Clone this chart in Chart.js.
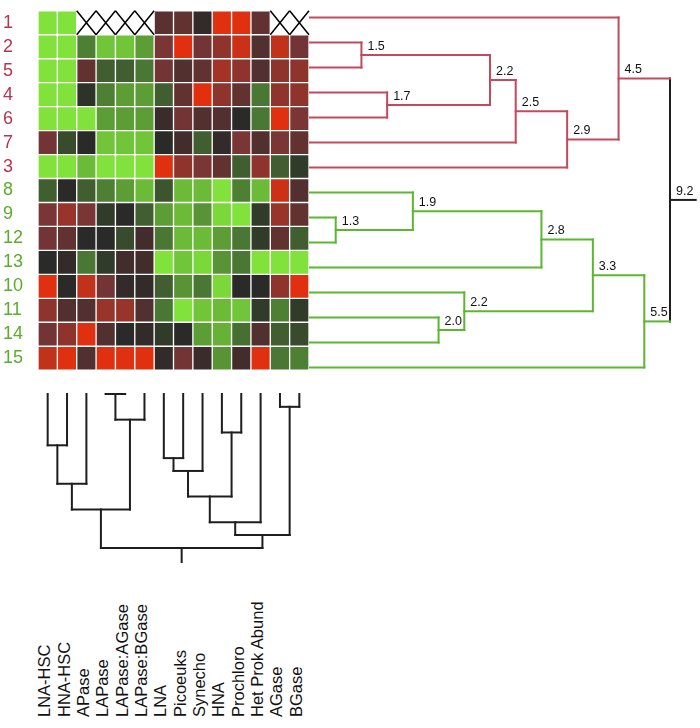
<!DOCTYPE html>
<html lang="en">
<head>
  <meta charset="UTF-8" />
  <title>Clustered heatmap</title>
  <script src="https://cdn.jsdelivr.net/npm/chart.js"></script>
  <style>
    body { margin: 0; background: #fff; font-family: "Liberation Sans", Arial, sans-serif; }
    #wrap { position: relative; width: 700px; height: 728px; overflow: hidden; }
    #wrap canvas { position: absolute; }
    .collab { position: absolute; font-size: 16.5px; line-height: 16px; white-space: nowrap;
              color: #111; transform-origin: 0 0; transform: rotate(-90deg); }
  </style>
</head>
<body>
  <div id="wrap">
    <canvas id="heat" width="310" height="381" style="left:0;top:0"></canvas>
    <canvas id="rowTree" width="400" height="385" style="left:300px;top:0"></canvas>
    <canvas id="colTree" width="310" height="185" style="left:0;top:385px"></canvas>
  </div>

  <script>
    // rows as they appear top to bottom
    const rowLabels = ['1', '2', '5', '4', '6', '7', '3', '8', '9', '12', '13', '10', '11', '14', '15'];
    const rowGroups = ['red', 'red', 'red', 'red', 'red', 'red', 'red',
                       'green', 'green', 'green', 'green', 'green', 'green', 'green', 'green'];
    const colLabels = ['LNA-HSC', 'HNA-HSC', 'APase', 'LAPase', 'LAPase:AGase', 'LAPase:BGase', 'LNA',
                       'Picoeuks', 'Synecho', 'HNA', 'Prochloro', 'Het Prok Abund', 'AGase', 'BGase'];

    // standardised values, -1 = green, +1 = red, null = missing
    const heat = [
      [-1, -1, null, null, null, null, 0.3, 0.35, 0.05, 1, 1, 0.35, null, null],
      [-1, -1, -0.5, -0.85, -0.85, -0.65, 0.5, 1, 0.45, 0.6, 0.9, 0.25, 0.85, 0.45],
      [-1, -1, 0.35, -0.3, -0.3, -0.45, 0.45, 0.25, 0.35, 0.7, 0.6, 0.25, 0.6, 0.6],
      [-1, -1, -0.05, -0.5, -0.65, -0.65, -0.3, 0.35, 1, 0.6, 0.35, -0.45, 0.6, 0.6],
      [-1, -1, -1, -0.65, -0.65, -0.65, 0.1, 0.45, 0.25, 0.25, 0, -0.45, 1, 0.5],
      [0.45, -0.2, 0, -0.85, -0.85, -0.85, 0, 0.15, -0.3, 0.05, 0.5, 0.25, 0.5, 0.35],
      [-1, -1, -0.8, -1, -1, -1, 1, 0.6, 0.5, 0.35, -0.3, 0.6, -0.3, -0.1],
      [-0.3, 0, -0.3, -0.5, -0.65, -0.8, -0.25, -0.8, -0.8, -1, -0.5, -0.8, 0.9, 0.25],
      [0.5, 0.65, 0.5, -0.1, 0, -0.3, -0.65, -0.8, -0.6, -0.95, -1, -0.1, 0.65, 0.35],
      [0.45, 0.35, 0, 0, -0.2, 0.15, -0.45, -0.8, -0.8, -0.65, -0.45, -0.1, 0.35, -0.3],
      [0, 0.05, -0.45, -0.1, 0.15, 0.15, -1, -0.85, -0.95, -0.6, -0.45, -1, -1, -1],
      [1, 0, 0.85, 0.45, 0.05, 0.05, -0.3, -0.6, -0.45, -0.95, 0, 0, 0.6, 1],
      [0.6, 0.25, 0.25, 0.65, 0.65, 0.25, -0.45, -1, -0.85, -0.8, -0.85, -0.1, -0.5, -0.1],
      [0.45, 0.6, 1, 0.25, 0, 0.05, -0.1, 0, -0.65, -0.75, -0.4, 0.25, -0.3, -0.2],
      [0.85, 1, 0.25, 1, 1, 1, 0.05, 0.45, 0.1, -0.6, 0.15, 1, -0.45, -0.5]
    ];

    // row tree: leaves 0..14, merge k makes node 15+k
    const rowMerges = [[8, 9], [1, 2], [3, 4], [7, 15], [12, 13], [11, 19], [16, 17],
                       [21, 5], [18, 10], [22, 6], [23, 20], [0, 24], [25, 14], [26, 27]];
    const rowHeights = [1.3, 1.5, 1.7, 1.9, 2.0, 2.2, 2.2, 2.5, 2.8, 2.9, 3.3, 4.5, 5.5, 9.2];

    // column tree: leaves 0..13, merge k makes node 14+k
    const colMerges = [[3, 4], [12, 13], [14, 5], [9, 10], [0, 1], [6, 7], [19, 8],
                       [18, 2], [20, 17], [21, 16], [22, 11], [24, 15], [23, 25]];

    const FONT = '"Liberation Sans", Arial, sans-serif';
    const RED_TXT = '#b8344d', GREEN_TXT = '#5aad2c';
    const RED_LINE = '#c34a5c', GREEN_LINE = '#5cb630', DARK = '#1e1e1e';

    const stops = [[-1, [128, 226, 58]], [-0.5, [78, 128, 52]], [0, [42, 42, 40]],
                   [0.5, [122, 53, 53]], [1, [224, 48, 15]]];
    function cellColor(v) {
      if (v === null) return '#ffffff';
      for (let i = 1; i < stops.length; i++) {
        if (v <= stops[i][0]) {
          const [a, ca] = stops[i - 1], [b, cb] = stops[i];
          const t = (v - a) / (b - a);
          const c = ca.map((q, j) => Math.round(q + (cb[j] - q) * t));
          return `rgb(${c[0]},${c[1]},${c[2]})`;
        }
      }
      return 'rgb(224,48,15)';
    }

    // crosses on missing cells
    const naCross = {
      id: 'naCross',
      afterDatasetsDraw(chart) {
        const { ctx, scales: { x, y } } = chart;
        const band = (y.bottom - y.top) / rowLabels.length;
        ctx.save();
        ctx.strokeStyle = '#000';
        ctx.lineWidth = 1.5;
        heat.forEach((row, r) => row.forEach((v, c) => {
          if (v !== null) return;
          const x0 = x.getPixelForValue(c), x1 = x.getPixelForValue(c + 1);
          const yc = y.getPixelForValue(r), y0 = yc - band / 2, y1 = yc + band / 2;
          ctx.beginPath();
          ctx.moveTo(x0, y0); ctx.lineTo(x1, y1);
          ctx.moveTo(x1, y0); ctx.lineTo(x0, y1);
          ctx.stroke();
        }));
        ctx.restore();
      }
    };

    new Chart(document.getElementById('heat'), {
      type: 'bar',
      data: {
        labels: rowLabels,
        datasets: colLabels.map((name, c) => ({
          label: name,
          data: rowLabels.map(() => [c, c + 1]),
          backgroundColor: heat.map(row => cellColor(row[c])),
          borderColor: 'rgba(255,255,255,0.08)',
          borderWidth: 1,
          borderSkipped: false,
          grouped: false,
          barPercentage: 1,
          categoryPercentage: 1
        }))
      },
      options: {
        indexAxis: 'y',
        responsive: false,
        animation: false,
        layout: { padding: { top: 5, right: 1, bottom: 1, left: 3 } },
        plugins: { legend: { display: false }, tooltip: { enabled: false } },
        scales: {
          x: { type: 'linear', min: 0, max: 14, display: false },
          y: {
            grid: { display: false },
            border: { display: false },
            ticks: {
              autoSkip: false,
              crossAlign: 'far',
              padding: 0,
              font: { size: 18, family: FONT },
              color: ctx => rowGroups[ctx.index] === 'red' ? RED_TXT : GREEN_TXT
            },
            afterFit: s => { s.width = 35; }
          }
        }
      },
      plugins: [naCross]
    });

    // --- row dendrogram (x = merge order, y = row position)
    const rowNodes = rowLabels.map((_, i) => ({ x: 0, y: i + 0.5, group: rowGroups[i] }));
    rowMerges.forEach(([a, b], k) => {
      const A = rowNodes[a], B = rowNodes[b];
      rowNodes.push({ x: k + 1, y: (A.y + B.y) / 2, group: A.group === B.group ? A.group : 'root',
                      a: A, b: B, h: rowHeights[k] });
    });
    const lineColor = g => g === 'red' ? RED_LINE : g === 'green' ? GREEN_LINE : DARK;
    const seg = (x1, y1, x2, y2, color) => ({
      data: [{ x: x1, y: y1 }, { x: x2, y: y2 }],
      showLine: true, borderColor: color, borderWidth: 2, borderCapStyle: 'square',
      pointRadius: 0, clip: false
    });
    const rowSegs = [];
    rowNodes.filter(n => n.a).forEach(n => {
      rowSegs.push(seg(n.a.x, n.a.y, n.x, n.a.y, lineColor(n.a.group)));
      rowSegs.push(seg(n.b.x, n.b.y, n.x, n.b.y, lineColor(n.b.group)));
      rowSegs.push(seg(n.x, n.a.y, n.x, n.b.y, lineColor(n.group)));
    });
    const rowRoot = rowNodes[rowNodes.length - 1];
    rowSegs.push(seg(rowRoot.x, rowRoot.y, rowRoot.x + 1, rowRoot.y, DARK));

    const nodeLabels = {
      id: 'nodeLabels',
      afterDatasetsDraw(chart) {
        const { ctx, scales: { x, y } } = chart;
        ctx.save();
        ctx.font = '12.5px ' + FONT;
        ctx.fillStyle = '#111';
        ctx.textBaseline = 'alphabetic';
        rowNodes.filter(n => n.a).forEach(n => {
          ctx.fillText(n.h.toFixed(1), x.getPixelForValue(n.x) + 6, y.getPixelForValue(n.y) - 5);
        });
        ctx.restore();
      }
    };

    new Chart(document.getElementById('rowTree'), {
      type: 'scatter',
      data: { datasets: rowSegs },
      options: {
        responsive: false,
        animation: false,
        layout: { padding: { left: 10, right: 0, top: 5, bottom: 5 } },
        plugins: { legend: { display: false }, tooltip: { enabled: false } },
        scales: {
          x: { type: 'linear', min: 0, max: 390 / (360 / 14), display: false },
          y: { type: 'linear', min: 0, max: 15, reverse: true, display: false }
        }
      },
      plugins: [nodeLabels]
    });

    // --- column dendrogram (x = column position, y = merge order going down)
    const colNodes = colLabels.map((_, i) => ({ x: i + 0.5, y: 0 }));
    colMerges.forEach(([a, b], k) => {
      const A = colNodes[a], B = colNodes[b];
      colNodes.push({ x: (A.x + B.x) / 2, y: k, a: A, b: B });
    });
    const colSegs = [];
    colNodes.filter(n => n.a).forEach(n => {
      colSegs.push(seg(n.a.x, n.a.y, n.a.x, n.y, DARK));
      colSegs.push(seg(n.b.x, n.b.y, n.b.x, n.y, DARK));
      colSegs.push(seg(n.a.x, n.y, n.b.x, n.y, DARK));
    });
    const colRoot = colNodes[colNodes.length - 1];
    colSegs.push(seg(colRoot.x, colRoot.y, colRoot.x, colRoot.y + 1.1, DARK));

    new Chart(document.getElementById('colTree'), {
      type: 'scatter',
      data: { datasets: colSegs },
      options: {
        responsive: false,
        animation: false,
        layout: { padding: { left: 38, right: 1, top: 9, bottom: 8 } },
        plugins: { legend: { display: false }, tooltip: { enabled: false } },
        scales: {
          x: { type: 'linear', min: 0, max: 14, display: false },
          y: { type: 'linear', min: 0, max: 13.1, reverse: true, display: false }
        }
      }
    });

    // column names, reading upward from a common baseline
    const wrap = document.getElementById('wrap');
    const cellW = 271 / colLabels.length;
    colLabels.forEach((name, i) => {
      const span = document.createElement('span');
      span.className = 'collab';
      span.textContent = name;
      span.style.left = (38 + (i + 0.5) * cellW - 11.5) + 'px';
      span.style.top = '717px';
      wrap.appendChild(span);
    });
  </script>
</body>
</html>
